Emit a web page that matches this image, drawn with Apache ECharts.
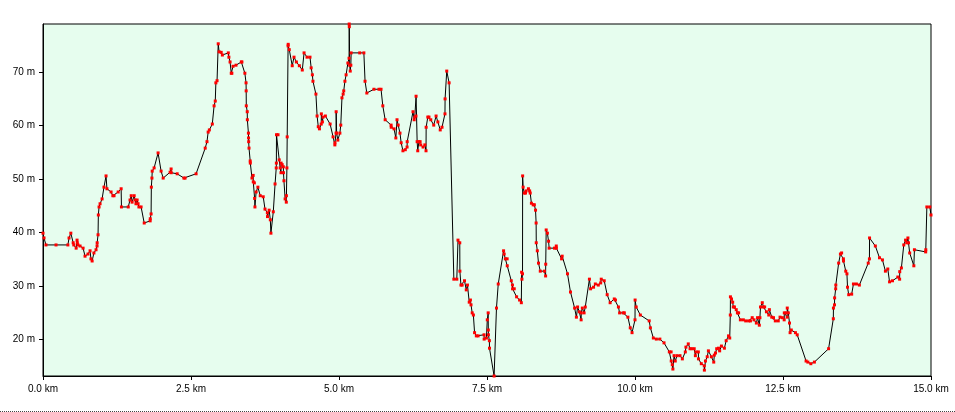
<!DOCTYPE html>
<html>
<head>
<meta charset="utf-8">
<script src="https://cdn.jsdelivr.net/npm/echarts@6/dist/echarts.min.js"></script>
<style>
html,body{margin:0;padding:0;background:#fff;}
#chart{width:955px;height:412px;}
</style>
</head>
<body>
<div id="chart"></div>
<script>
// distance along track (km)
const dist = [
0.00,0.017,0.05,0.22,0.42,0.44,0.47,0.51,0.52,0.56,0.575,0.58,0.59,0.626,0.677,0.71,0.76,0.795,0.81,0.83,
0.86,0.896,0.913,0.915,0.93,0.935,0.947,0.964,0.998,1.03,1.065,1.08,1.15,1.18,1.20,1.27,1.32,1.325,1.44,1.47,
1.49,1.505,1.54,1.556,1.57,1.59,1.606,1.62,1.657,1.71,1.81,1.812,1.826,1.83,1.84,1.845,1.877,1.944,1.995,2.03,
2.147,2.164,2.166,2.266,2.38,2.40,2.586,2.74,2.77,2.79,2.81,2.86,2.89,2.91,2.92,2.94,2.96,2.975,3.01,3.03,
3.13,3.14,3.16,3.18,3.19,3.21,3.26,3.35,3.36,3.41,3.43,3.432,3.434,3.45,3.452,3.47,3.472,3.474,3.48,3.50,
3.502,3.53,3.55,3.552,3.57,3.575,3.58,3.60,3.63,3.67,3.72,3.75,3.79,3.792,3.82,3.84,3.85,3.89,3.92,3.94,
3.942,3.944,3.97,3.99,4.006,4.02,4.022,4.04,4.06,4.062,4.07,4.09,4.11,4.112,4.12,4.125,4.14,4.142,4.16,4.21,
4.24,4.28,4.33,4.38,4.41,4.46,4.51,4.53,4.55,4.56,4.61,4.63,4.65,4.67,4.70,4.702,4.72,4.73,4.77,4.85,
4.90,4.93,4.932,4.95,4.952,4.96,4.98,5.015,5.03,5.05,5.07,5.08,5.10,5.12,5.15,5.17,5.172,5.174,5.18,5.19,
5.20,5.205,5.35,5.42,5.44,5.47,5.59,5.675,5.71,5.74,5.78,5.88,5.882,5.93,5.96,5.98,6.00,6.03,6.05,6.08,
6.12,6.15,6.152,6.25,6.27,6.28,6.30,6.302,6.32,6.33,6.35,6.37,6.38,6.42,6.45,6.47,6.472,6.50,6.52,6.55,
6.60,6.64,6.67,6.71,6.74,6.79,6.792,6.82,6.86,6.94,6.99,7.01,7.04,7.042,7.06,7.08,7.12,7.15,7.17,7.20,
7.22,7.23,7.25,7.27,7.29,7.32,7.35,7.45,7.452,7.49,7.505,7.52,7.522,7.524,7.54,7.542,7.62,7.66,7.69,7.78,
7.79,7.81,7.84,7.842,7.91,7.93,7.932,7.96,8.00,8.05,8.08,8.085,8.09,8.10,8.102,8.11,8.13,8.15,8.16,8.20,
8.22,8.23,8.25,8.28,8.30,8.32,8.33,8.332,8.35,8.37,8.40,8.47,8.49,8.492,8.50,8.52,8.54,8.55,8.64,8.67,
8.672,8.76,8.77,8.86,8.91,8.98,9.01,9.03,9.06,9.09,9.092,9.11,9.14,9.16,9.23,9.25,9.30,9.33,9.38,9.42,
9.43,9.48,9.53,9.58,9.65,9.67,9.72,9.74,9.80,9.82,9.88,9.92,9.95,10.00,10.002,10.02,10.09,10.24,10.26,10.31,
10.36,10.42,10.49,10.58,10.61,10.612,10.63,10.64,10.66,10.68,10.71,10.76,10.80,10.85,10.86,10.90,10.93,10.96,11.00,11.02,
11.03,11.07,11.072,11.12,11.17,11.172,11.19,11.22,11.24,11.29,11.33,11.34,11.36,11.38,11.41,11.43,11.46,11.51,11.54,11.58,
11.60,11.61,11.612,11.63,11.65,11.66,11.68,11.71,11.73,11.75,11.78,11.83,11.87,11.92,11.95,11.98,12.01,12.05,12.07,12.10,
12.11,12.12,12.15,12.17,12.19,12.22,12.26,12.27,12.31,12.34,12.37,12.42,12.45,12.49,12.52,12.522,12.55,12.57,12.572,12.59,
12.61,12.62,12.64,12.71,12.74,12.89,12.92,12.97,13.03,13.27,13.35,13.352,13.37,13.372,13.39,13.392,13.44,13.47,13.49,13.52,
13.522,13.56,13.58,13.59,13.61,13.66,13.69,13.74,13.79,13.94,13.96,13.962,14.06,14.13,14.18,14.23,14.27,14.30,14.35,14.44,
14.47,14.472,14.50,14.54,14.57,14.59,14.61,14.62,14.64,14.71,14.72,14.91,14.912,14.93,14.98,15.00
];
// elevation (m)
const elev = [
39.9,39.0,37.7,37.7,37.7,39.0,39.9,38.1,37.7,37.1,38.6,38.1,37.7,37.5,37.1,35.6,36.0,36.6,35.1,34.7,
36.2,36.8,37.5,38.1,39.6,43.3,44.8,45.4,46.3,48.5,50.6,48.2,47.6,46.9,46.9,47.6,48.2,44.8,44.8,46.1,
46.9,45.7,46.9,46.1,45.4,46.1,45.4,44.8,44.8,41.8,42.2,42.6,43.5,48.5,50.2,51.5,52.1,54.9,51.5,50.2,
51.3,51.9,51.2,51.0,50.2,50.2,51.0,55.8,57.0,58.8,59.2,60.3,63.7,64.6,68.0,68.4,75.3,73.8,73.7,73.2,
73.6,72.8,71.9,69.8,69.8,71.1,71.3,71.9,71.9,69.8,68.0,66.5,63.7,62.6,61.1,58.6,57.7,57.0,55.8,53.4,
53.0,50.2,50.7,49.5,49.3,46.4,44.8,47.6,48.5,46.9,46.7,44.4,43.7,43.0,44.2,42.4,39.9,43.9,49.1,52.1,
53.0,58.3,58.3,53.6,52.1,51.2,53.0,52.7,52.3,51.2,49.7,46.3,45.7,46.9,52.1,57.9,74.9,75.2,74.2,71.2,
72.8,71.9,71.2,70.4,73.6,72.8,72.8,70.8,69.5,68.3,65.9,61.8,59.8,59.4,60.3,62.2,60.7,61.6,61.8,60.3,
57.9,56.4,56.8,58.6,62.6,58.6,57.3,58.6,60.1,65.2,65.9,66.5,68.3,69.5,71.7,72.6,79.0,78.5,71.3,70.2,
71.3,73.6,73.6,73.6,68.3,66.1,66.8,66.8,66.8,63.7,61.1,60.1,59.7,59.4,57.7,61.1,60.1,58.6,56.8,55.3,
55.5,56.0,57.0,62.6,61.1,61.6,61.8,65.5,57.0,55.3,57.0,57.0,56.4,56.0,56.4,55.3,59.7,61.6,61.6,61.1,
60.1,61.8,60.7,59.2,59.7,62.2,65.0,70.2,68.0,31.3,31.3,38.6,38.1,32.8,30.2,30.2,31.0,29.3,30.2,27.0,
27.4,26.5,25.0,24.6,21.3,20.7,20.7,20.9,20.1,20.3,23.7,25.0,21.8,20.9,19.8,18.4,13.2,25.9,30.4,36.6,
36.0,35.1,35.1,33.8,31.0,30.2,29.5,29.5,28.0,27.4,26.9,32.6,31.3,32.3,50.6,48.5,47.4,47.4,47.8,48.2,
47.8,47.4,45.5,45.2,45.2,44.2,41.8,38.1,36.6,34.3,32.8,32.8,31.9,34.1,40.5,39.9,38.4,37.1,37.1,37.5,
37.1,35.1,35.6,32.3,28.9,25.9,24.2,26.1,25.2,23.7,25.0,25.9,25.0,26.1,31.3,29.5,29.8,30.4,30.2,30.6,
31.3,31.0,28.4,26.9,27.6,27.4,26.1,25.0,25.0,25.0,24.2,22.2,21.3,23.7,27.4,26.1,24.6,23.5,22.2,20.3,
20.1,20.1,19.4,17.7,17.7,16.0,15.3,14.5,17.0,16.0,17.0,17.0,16.4,17.7,18.6,19.2,18.3,18.3,18.3,17.0,
17.7,17.7,16.4,15.5,15.1,14.3,16.0,16.8,17.9,16.8,15.8,17.1,17.5,18.3,18.4,17.9,18.8,18.4,19.8,20.7,
20.3,24.6,28.0,27.6,27.0,26.1,26.1,25.6,25.0,25.0,23.7,23.7,23.5,23.5,23.5,24.1,23.7,23.1,24.1,22.7,
24.1,26.1,26.9,26.1,26.1,25.2,24.6,25.6,24.2,24.1,23.5,23.5,24.2,24.1,23.7,25.0,25.0,24.2,25.9,25.0,
23.1,21.3,21.8,21.3,20.9,16.0,15.8,15.5,15.8,18.3,23.9,25.9,26.5,27.8,29.5,30.2,34.3,36.0,36.2,35.1,
34.7,32.8,32.3,29.8,28.4,28.5,30.4,30.4,30.2,34.3,35.1,39.0,37.5,35.3,34.9,32.8,33.2,30.8,31.0,31.7,
31.3,32.7,33.4,37.7,38.6,38.1,39.0,38.1,36.2,33.8,36.8,36.4,36.8,44.8,44.8,43.3
];
// axis ticks
const yTicks = [20, 30, 40, 50, 60, 70];
const xTicks = [0, 2.5, 5, 7.5, 10, 12.5, 15];
const yMin = 13.2, yMax = 79.0;

const pts = dist.map((d, i) => [d, elev[i]]);
const chart = echarts.init(document.getElementById('chart'), null, {renderer: 'canvas'});
const font = {fontFamily: 'Liberation Sans', fontSize: 10, color: '#000'};
chart.setOption({
  animation: false,
  backgroundColor: '#fff',
  grid: {
    left: 43, right: 24, top: 24, bottom: 36,
    show: true, backgroundColor: '#e6fdee', borderColor: '#000', borderWidth: 1
  },
  xAxis: {
    type: 'value', min: 0, max: 15, interval: 2.5,
    axisLine: {show: true, onZero: false, lineStyle: {color: '#000', width: 1}},
    axisTick: {show: true, length: 4, inside: false, lineStyle: {color: '#000'}},
    splitLine: {show: false},
    axisLabel: Object.assign({margin: 8, formatter: v => v.toFixed(1) + ' km'}, font)
  },
  yAxis: {
    type: 'value', min: yMin, max: yMax,
    axisLine: {show: true, lineStyle: {color: '#000', width: 1}},
    axisTick: {show: true, length: 4, inside: false, customValues: yTicks, lineStyle: {color: '#000'}},
    splitLine: {show: false},
    axisLabel: Object.assign({margin: 8, customValues: yTicks, formatter: v => Math.round(v) + ' m'}, font)
  },
  series: [{
    type: 'line',
    data: pts,
    showAllSymbol: true,
    symbol: 'rect',
    symbolSize: 3,
    clip: false,
    itemStyle: {color: '#ff0000'},
    lineStyle: {color: '#000', width: 1},
    emphasis: {disabled: true}
  }],
  graphic: [{
    type: 'line', silent: true,
    shape: {x1: 0, y1: 411.5, x2: 955, y2: 411.5},
    style: {stroke: '#444', lineWidth: 1, lineDash: [1, 1]}
  }]
});
</script>
</body>
</html>
